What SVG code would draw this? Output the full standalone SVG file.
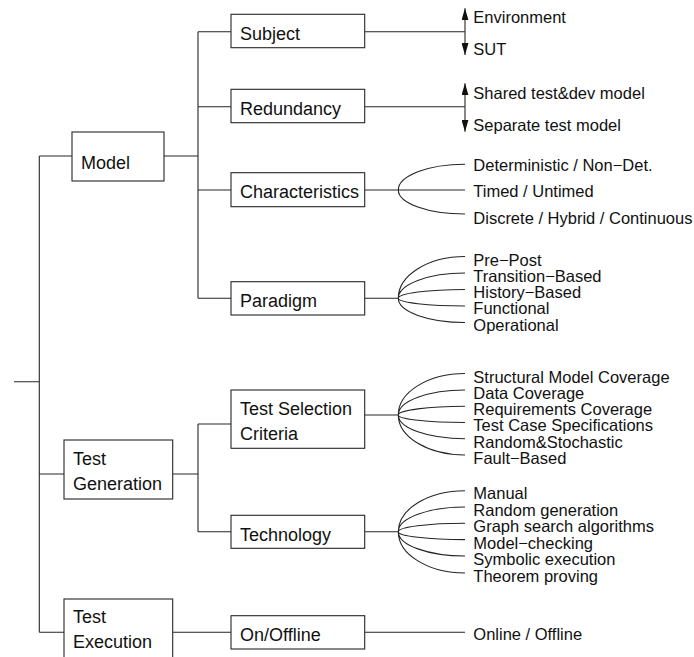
<svg xmlns="http://www.w3.org/2000/svg" width="694" height="657" viewBox="0 0 694 657">
<style>
.box{fill:#fff;stroke:#262626;stroke-width:1.1}
.bl{font-family:"Liberation Sans",Arial,sans-serif;font-size:18px;fill:#111}
.lf{font-family:"Liberation Sans",Arial,sans-serif;font-size:16.5px;fill:#111}
.c{fill:none;stroke:#262626;stroke-width:1.1}
.a{fill:none;stroke:#262626;stroke-width:1.1;marker-end:url(#ah)}
</style>
<defs>
<marker id="ah" viewBox="0 0 12 7" refX="12" refY="3.5" markerWidth="12" markerHeight="7" markerUnits="userSpaceOnUse" orient="auto">
<path d="M0,0 L12,3.5 L0,7 z" fill="#111"/>
</marker>
</defs>
<g id="connectors">
<path class="c" d="M14,381.7 H39.3 M39.3,156 V632.3 M39.3,156 H72 M164,156 H198"/>
<path class="c" d="M198,31.7 V298.3 M198,31.7 H231 M198,106.7 H231 M198,190 H231 M198,298.3 H231"/>
<path class="c" d="M39.3,474 H64 M172.7,474 H198 M198,424 V531.7 M198,424 H231 M198,531.7 H231"/>
<path class="c" d="M39.3,632.3 H64 M172.7,632.3 H231 M364.7,632.3 H465"/>
<path class="c" d="M364.7,31.7 H465 M364.7,106.7 H465"/>
<path class="a" d="M465,31.7 V8.3"/>
<path class="a" d="M465,31.7 V55"/>
<path class="a" d="M465,106.7 V83.3"/>
<path class="a" d="M465,106.7 V131.7"/>
<path class="c" d="M364.7,190 H465 M398.3,190 A66.7,25.7 0 0 1 465,164.3 M398.3,190 A66.7,24 0 0 0 465,214"/>
<path class="c" d="M364.7,298.3 H398.3 M398.3,298.3 A66.7,41.8 0 0 1 465,256.5 M398.3,298.3 A66.7,25.3 0 0 1 465,273 M398.3,298.3 A66.7,8.8 0 0 1 465,289.5 M398.3,298.3 A66.7,7.7 0 0 0 465,306 M398.3,298.3 A66.7,24.2 0 0 0 465,322.5"/>
<path class="c" d="M364.7,415 H398.3 M398.3,415 A66.7,41.5 0 0 1 465,373.5 M398.3,415 A66.7,25 0 0 1 465,390 M398.3,415 A66.7,8.7 0 0 1 465,406.3 M398.3,415 A66.7,7.5 0 0 0 465,422.5 M398.3,415 A66.7,23.7 0 0 0 465,438.7 M398.3,415 A66.7,40 0 0 0 465,455"/>
<path class="c" d="M364.7,531.7 H398.3 M398.3,531.7 A66.7,41 0 0 1 465,490.7 M398.3,531.7 A66.7,24.7 0 0 1 465,507 M398.3,531.7 A66.7,8.4 0 0 1 465,523.3 M398.3,531.7 A66.7,7.9 0 0 0 465,539.6 M398.3,531.7 A66.7,24.3 0 0 0 465,556 M398.3,531.7 A66.7,41.3 0 0 0 465,573"/>
</g>
<g id="model"><rect class="box" x="72" y="132" width="92" height="49"/><text class="bl" x="81" y="169">Model</text></g>
<g id="subject"><rect class="box" x="231" y="14.3" width="133.7" height="33.4"/><text class="bl" x="240" y="40">Subject</text></g>
<g id="redundancy"><rect class="box" x="231" y="89.3" width="133.7" height="33.4"/><text class="bl" x="240" y="115">Redundancy</text></g>
<g id="characteristics"><rect class="box" x="231" y="172.7" width="133.7" height="34"/><text class="bl" x="240" y="198">Characteristics</text></g>
<g id="paradigm"><rect class="box" x="231" y="281.7" width="133.7" height="33.3"/><text class="bl" x="240" y="307.3">Paradigm</text></g>
<g id="test-generation"><rect class="box" x="64" y="440" width="108.7" height="59"/><text class="bl" x="73" y="465">Test</text><text class="bl" x="73" y="490">Generation</text></g>
<g id="test-selection-criteria"><rect class="box" x="231" y="390" width="133.7" height="58.3"/><text class="bl" x="240" y="415">Test Selection</text><text class="bl" x="240" y="439.5">Criteria</text></g>
<g id="technology"><rect class="box" x="231" y="515.3" width="133.7" height="33"/><text class="bl" x="240" y="540.7">Technology</text></g>
<g id="test-execution"><rect class="box" x="64" y="599" width="108.7" height="60"/><text class="bl" x="73" y="623.3">Test</text><text class="bl" x="73" y="648.3">Execution</text></g>
<g id="on-offline"><rect class="box" x="231" y="615.7" width="133.7" height="33.3"/><text class="bl" x="240" y="640.7">On/Offline</text></g>
<g id="leaves">
<text class="lf" x="473.3" y="22.7">Environment</text>
<text class="lf" x="473.3" y="54.5">SUT</text>
<text class="lf" x="473.3" y="99.3">Shared test&amp;dev model</text>
<text class="lf" x="473.3" y="131">Separate test model</text>
<text class="lf" x="473.3" y="170.5">Deterministic / Non−Det.</text>
<text class="lf" x="473.3" y="197">Timed / Untimed</text>
<text class="lf" x="473.3" y="223.5">Discrete / Hybrid / Continuous</text>
<text class="lf" x="473.3" y="265.5">Pre−Post</text>
<text class="lf" x="473.3" y="281.8">Transition−Based</text>
<text class="lf" x="473.3" y="298.1">History−Based</text>
<text class="lf" x="473.3" y="314.4">Functional</text>
<text class="lf" x="473.3" y="330.7">Operational</text>
<text class="lf" x="473.3" y="382.5">Structural Model Coverage</text>
<text class="lf" x="473.3" y="398.8">Data Coverage</text>
<text class="lf" x="473.3" y="415">Requirements Coverage</text>
<text class="lf" x="473.3" y="431.3">Test Case Specifications</text>
<text class="lf" x="473.3" y="447.5">Random&amp;Stochastic</text>
<text class="lf" x="473.3" y="463.8">Fault−Based</text>
<text class="lf" x="473.3" y="499.3">Manual</text>
<text class="lf" x="473.3" y="515.8">Random generation</text>
<text class="lf" x="473.3" y="532.3">Graph search algorithms</text>
<text class="lf" x="473.3" y="548.8">Model−checking</text>
<text class="lf" x="473.3" y="565.3">Symbolic execution</text>
<text class="lf" x="473.3" y="581.8">Theorem proving</text>
<text class="lf" x="473.3" y="640">Online / Offline</text>
</g>
</svg>
